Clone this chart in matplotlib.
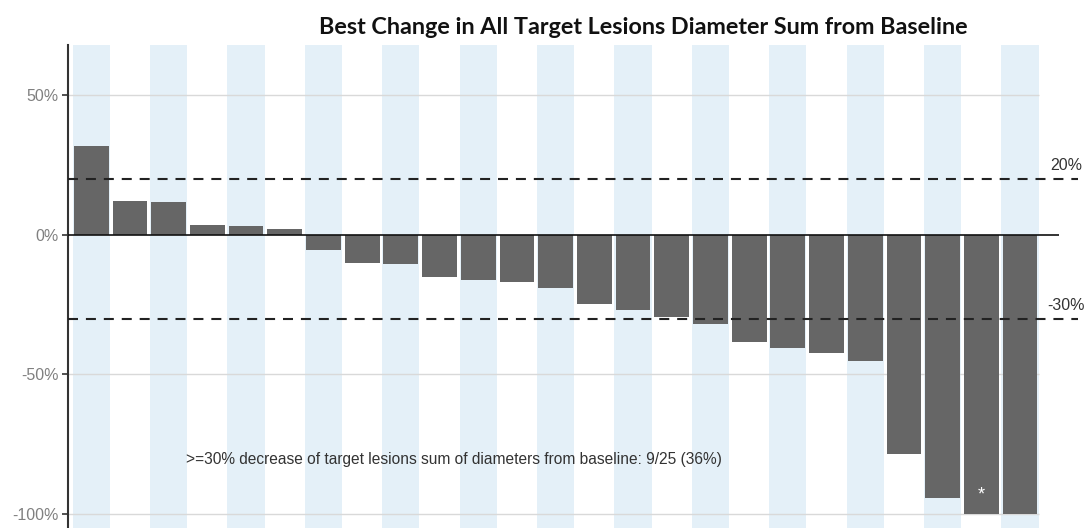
import numpy as np
import matplotlib
matplotlib.use("Agg")
import matplotlib.pyplot as plt

# best % change from baseline, one bar per patient (sorted)
patients = np.arange(1, 26)
best_change = [32, 12.2, 11.9, 3.5, 3.0, 2.0, -5.6, -10.1, -10.3, -15.2,
               -16.3, -17.0, -18.9, -24.8, -27.0, -29.3, -31.9, -38.4, -40.6,
               -42.2, -45.2, -78.5, -94.4, -100, -100]
y_ticks = [50, 0, -50, -100]
y_tick_labels = ["50%", "0%", "-50%", "-100%"]
ref_lines = [20, -30]
ref_labels = ["20%", "-30%"]
star_patient = 24
note = ">=30% decrease of target lesions sum of diameters from baseline: 9/25 (36%)"
title = "Best Change in All Target Lesions Diameter Sum from Baseline"

fig = plt.figure(figsize=(10.87, 5.28), dpi=100)
ax = fig.add_axes([68 / 1087, 0.0, 1 - 68 / 1087, 1 - 45 / 528])
ax.set_xlim(0.4, 26.73)
ax.set_ylim(-105, 68)

# alternating stripes
for p in patients[::2]:
    ax.axvspan(p - 0.482, p + 0.482, color="#e4f0f8", lw=0, zorder=0)

# light grid
for yv in [50, -50, -100]:
    ax.hlines(yv, 0.4, 25.5, color="#d9d9d9", lw=1.0, zorder=1)

ax.bar(patients, best_change, width=0.9, color="#666666", zorder=2)

ax.hlines(0, 0.4, 26.0, color="#111111", lw=1.2, zorder=3)
for yv, lab in zip(ref_lines, ref_labels):
    ax.hlines(yv, 0.4, 26.5, color="#222222", lw=1.5, linestyles=(0, (4.8, 3.8)), zorder=4)
    ax.text(26.2, yv + 2, lab, ha="center", va="bottom", fontsize=11.5,
            color="#333333", family="Liberation Sans")

ax.text(star_patient, -93, "*", ha="center", va="center", color="white",
        fontsize=13, zorder=5, family="Liberation Sans")
ax.text(3.45, -80.5, note, ha="left", va="center", fontsize=11.2,
        color="#333333", family="Liberation Sans")

ax.set_xticks([])
ax.set_yticks(y_ticks)
ax.set_yticklabels(y_tick_labels, family="Liberation Sans", fontsize=11.5, color="#808080")
ax.tick_params(axis="y", length=4, width=1.2, color="#333333", pad=3)
for s in ["top", "right", "bottom"]:
    ax.spines[s].set_visible(False)
ax.spines["left"].set_color("#333333")
ax.spines["left"].set_linewidth(1.5)

fig.text(643 / 1087, 1 - 28 / 528, title, ha="center", va="center",
         fontsize=16.8, fontweight="bold", family="Lato", color="#111111")

fig.savefig("out.png", dpi=100)
